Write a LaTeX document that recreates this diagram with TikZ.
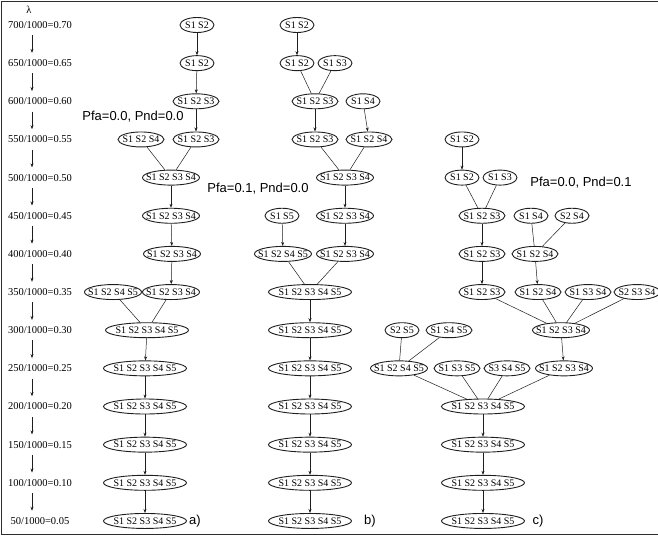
\documentclass[tikz,border=0pt]{standalone}
\usepackage{fontspec}
\setmainfont{Liberation Serif}
\newfontfamily\pfasans{Liberation Sans}
\usepackage{tikz}
\usetikzlibrary{shapes.geometric, arrows.meta, positioning}
\definecolor{framegray}{RGB}{45, 45, 45}
\definecolor{linegray}{RGB}{30, 30, 30}
\tikzset{
  state/.style={ellipse, draw=linegray, line width=0.9pt, inner sep=0pt,
    minimum height=15pt, font=\fontsize{10}{10}\selectfont,
    execute at begin node={\hbox to 0pt\bgroup\hss},
    execute at end node={\hss\egroup}},
  two/.style={state, minimum width=34pt},
  three/.style={state, minimum width=46pt},
  four/.style={state, minimum width=57pt},
  five/.style={state, minimum width=83pt},
  lamlabel/.style={inner sep=2pt, font=\fontsize{10.5}{10.5}\selectfont},
  pfalabel/.style={inner sep=0pt, font=\pfasans\fontsize{13}{13}\selectfont},
  link/.style={line width=0.5pt, color=linegray},
  arrow/.style={link, -{Stealth[length=4pt,width=3pt]}},
  lamarrow/.style={arrow, shorten <=4.5pt, shorten >=4.5pt},
  frame/.style={line width=1.4pt, color=framegray}
}
\begin{document}
\begin{tikzpicture}[x=1pt, y=-38.15pt]
\useasboundingbox (0,-0.6553) rectangle (658,13.394);
\draw[frame] (660,-0.616) -- (1.5,-0.616) -- (1.5,13.355) -- (660,13.355);

% lambda column
\node (lam) [lamlabel] at (29,-0.39) {λ};
\node (l0)  [lamlabel] at (40,0)  {700/1000=0.70};
\node (l1)  [lamlabel] at (40,1)  {650/1000=0.65};
\node (l2)  [lamlabel] at (40,2)  {600/1000=0.60};
\node (l3)  [lamlabel] at (40,3)  {550/1000=0.55};
\node (l4)  [lamlabel] at (40,4)  {500/1000=0.50};
\node (l5)  [lamlabel] at (40,5)  {450/1000=0.45};
\node (l6)  [lamlabel] at (40,6)  {400/1000=0.40};
\node (l7)  [lamlabel] at (40,7)  {350/1000=0.35};
\node (l8)  [lamlabel] at (40,8)  {300/1000=0.30};
\node (l9)  [lamlabel] at (40,9)  {250/1000=0.25};
\node (l10) [lamlabel] at (40,10) {200/1000=0.20};
\node (l11) [lamlabel] at (40,11) {150/1000=0.15};
\node (l12) [lamlabel] at (40,12) {100/1000=0.10};
\node (l13) [lamlabel] at (40,13) {50/1000=0.05};

\draw[lamarrow] ([xshift=-8pt]l0.south)  -- ([xshift=-8pt]l1.north);
\draw[lamarrow] ([xshift=-8pt]l1.south)  -- ([xshift=-8pt]l2.north);
\draw[lamarrow] ([xshift=-8pt]l2.south)  -- ([xshift=-8pt]l3.north);
\draw[lamarrow] ([xshift=-8pt]l3.south)  -- ([xshift=-8pt]l4.north);
\draw[lamarrow] ([xshift=-8pt]l4.south)  -- ([xshift=-8pt]l5.north);
\draw[lamarrow] ([xshift=-8pt]l5.south)  -- ([xshift=-8pt]l6.north);
\draw[lamarrow] ([xshift=-8pt]l6.south)  -- ([xshift=-8pt]l7.north);
\draw[lamarrow] ([xshift=-8pt]l7.south)  -- ([xshift=-8pt]l8.north);
\draw[lamarrow] ([xshift=-8pt]l8.south)  -- ([xshift=-8pt]l9.north);
\draw[lamarrow] ([xshift=-8pt]l9.south)  -- ([xshift=-8pt]l10.north);
\draw[lamarrow] ([xshift=-8pt]l10.south) -- ([xshift=-8pt]l11.north);
\draw[lamarrow] ([xshift=-8pt]l11.south) -- ([xshift=-8pt]l12.north);
\draw[lamarrow] ([xshift=-8pt]l12.south) -- ([xshift=-8pt]l13.north);

% tree a)
\node (a0)  [two]   at (197,0) {S1 S2};
\node (a1)  [two]   at (197,1) {S1 S2};
\node (a2)  [three] at (196,2) {S1 S2 S3};
\node (a3l) [three] at (141,3) {S1 S2 S4};
\node (a3r) [three] at (196,3) {S1 S2 S3};
\node (a4)  [four]  at (171,4) {S1 S2 S3 S4};
\node (a5)  [four]  at (171,5) {S1 S2 S3 S4};
\node (a6)  [four]  at (172,6) {S1 S2 S3 S4};
\node (a7l) [four]  at (113,7) {S1 S2 S4 S5};
\node (a7r) [four]  at (171,7) {S1 S2 S3 S4};
\node (a8)  [five]  at (147,8) {S1 S2 S3 S4 S5};
\node (a9)  [five]  at (145,9) {S1 S2 S3 S4 S5};
\node (a10) [five]  at (145,10) {S1 S2 S3 S4 S5};
\node (a11) [five]  at (145,11) {S1 S2 S3 S4 S5};
\node (a12) [five]  at (145,12) {S1 S2 S3 S4 S5};
\node (a13) [five]  at (145,13) {S1 S2 S3 S4 S5};
\node (pa)  [pfalabel] at (133,2.41) {Pfa=0.0, Pnd=0.0};
\node (ta)  [pfalabel] at (195,13) {a)};

\draw[arrow] (a0) -- (a1);
\draw[arrow] (a1) -- (a2);
\draw[arrow] (a2) -- (a3r);
\draw[link]  (a3l) -- (a4);
\draw[link]  (a3r) -- (a4);
\draw[arrow] (a4) -- (a5);
\draw[arrow] (a5) -- (a6);
\draw[arrow] (a6) -- (a7r);
\draw[link]  (a7l) -- (a8);
\draw[link]  (a7r) -- (a8);
\draw[arrow] (a8) -- (a9);
\draw[arrow] (a9) -- (a10);
\draw[arrow] (a10) -- (a11);
\draw[arrow] (a11) -- (a12);
\draw[arrow] (a12) -- (a13);

% tree b)
\node (b0)  [two]   at (297,0) {S1 S2};
\node (b1l) [two]   at (297,1) {S1 S2};
\node (b1r) [two]   at (335,1) {S1 S3};
\node (b2l) [three] at (315,2) {S1 S2 S3};
\node (b2r) [two]   at (363,2) {S1 S4};
\node (b3l) [three] at (315,3) {S1 S2 S3};
\node (b3r) [three] at (369,3) {S1 S2 S4};
\node (b4)  [four]  at (345,4) {S1 S2 S3 S4};
\node (b5l) [two]   at (282,5) {S1 S5};
\node (b5r) [four]  at (345,5) {S1 S2 S3 S4};
\node (b6l) [four]  at (283,6) {S1 S2 S4 S5};
\node (b6r) [four]  at (345,6) {S1 S2 S3 S4};
\node (b7)  [five]  at (310,7) {S1 S2 S3 S4 S5};
\node (b8)  [five]  at (310,8) {S1 S2 S3 S4 S5};
\node (b9)  [five]  at (310,9) {S1 S2 S3 S4 S5};
\node (b10) [five]  at (310,10) {S1 S2 S3 S4 S5};
\node (b11) [five]  at (310,11) {S1 S2 S3 S4 S5};
\node (b12) [five]  at (310,12) {S1 S2 S3 S4 S5};
\node (b13) [five]  at (310,13) {S1 S2 S3 S4 S5};
\node (pb)  [pfalabel] at (258,4.3) {Pfa=0.1, Pnd=0.0};
\node (tb)  [pfalabel] at (370,13) {b)};

\draw[arrow] (b0) -- (b1l);
\draw[link]  (b1l) -- (b2l);
\draw[link]  (b1r) -- (b2l);
\draw[arrow] (b2l) -- (b3l);
\draw[arrow] (b2r) -- (b3r);
\draw[link]  (b3l) -- (b4);
\draw[link]  (b3r) -- (b4);
\draw[arrow] (b4) -- (b5r);
\draw[arrow] (b5r) -- (b6r);
\draw[arrow] (b5l) -- (b6l);
\draw[link]  (b6l) -- (b7);
\draw[link]  (b6r) -- (b7);
\draw[arrow] (b7) -- (b8);
\draw[arrow] (b8) -- (b9);
\draw[arrow] (b9) -- (b10);
\draw[arrow] (b10) -- (b11);
\draw[arrow] (b11) -- (b12);
\draw[arrow] (b12) -- (b13);

% tree c)
\node (c3)  [two]   at (462,3) {S1 S2};
\node (c4l) [two]   at (462,4) {S1 S2};
\node (c4r) [two]   at (500,4) {S1 S3};
\node (c5a) [three] at (482,5) {S1 S2 S3};
\node (c5b) [two]   at (531,5) {S1 S4};
\node (c5c) [two]   at (572,5) {S2 S4};
\node (c6a) [three] at (482,6) {S1 S2 S3};
\node (c6b) [three] at (535,6) {S1 S2 S4};
\node (c7a) [three] at (482,7) {S1 S2 S3};
\node (c7b) [three] at (538,7) {S1 S2 S4};
\node (c7c) [three] at (588,7) {S1 S3 S4};
\node (c7d) [three] at (637,7) {S2 S3 S4};
\node (c8a) [two]   at (402,8) {S2 S5};
\node (c8b) [three] at (449,8) {S1 S4 S5};
\node (c8c) [four]  at (561,8) {S1 S2 S3 S4};
\node (c9a) [four]  at (399,9) {S1 S2 S4 S5};
\node (c9b) [three] at (457,9) {S1 S3 S5};
\node (c9c) [three] at (507,9) {S3 S4 S5};
\node (c9d) [four]  at (564,9) {S1 S2 S3 S4};
\node (c10) [five]  at (483,10) {S1 S2 S3 S4 S5};
\node (c11) [five]  at (483,11) {S1 S2 S3 S4 S5};
\node (c12) [five]  at (483,12) {S1 S2 S3 S4 S5};
\node (c13) [five]  at (483,13) {S1 S2 S3 S4 S5};
\node (pc)  [pfalabel] at (581,4.12) {Pfa=0.0, Pnd=0.1};
\node (tc)  [pfalabel] at (538,13) {c)};

\draw[arrow] (c3) -- (c4l);
\draw[link]  (c4l) -- (c5a);
\draw[link]  (c4r) -- (c5a);
\draw[arrow] (c5a) -- (c6a);
\draw[link]  (c5b) -- (c6b);
\draw[link]  (c5c) -- (c6b);
\draw[arrow] (c6a) -- (c7a);
\draw[arrow] (c6b) -- (c7b);
\draw[link]  (c7a) -- (c8c);
\draw[link]  (c7b) -- (c8c);
\draw[link]  (c7c) -- (c8c);
\draw[link]  (c7d) -- (c8c);
\draw[arrow] (c8c) -- (c9d);
\draw[link]  (c8a) -- (c9a);
\draw[link]  (c8b) -- (c9a);
\draw[link]  (c9a) -- (c10);
\draw[link]  (c9b) -- (c10);
\draw[link]  (c9c) -- (c10);
\draw[link]  (c9d) -- (c10);
\draw[arrow] (c10) -- (c11);
\draw[arrow] (c11) -- (c12);
\draw[arrow] (c12) -- (c13);
\end{tikzpicture}
\end{document}
